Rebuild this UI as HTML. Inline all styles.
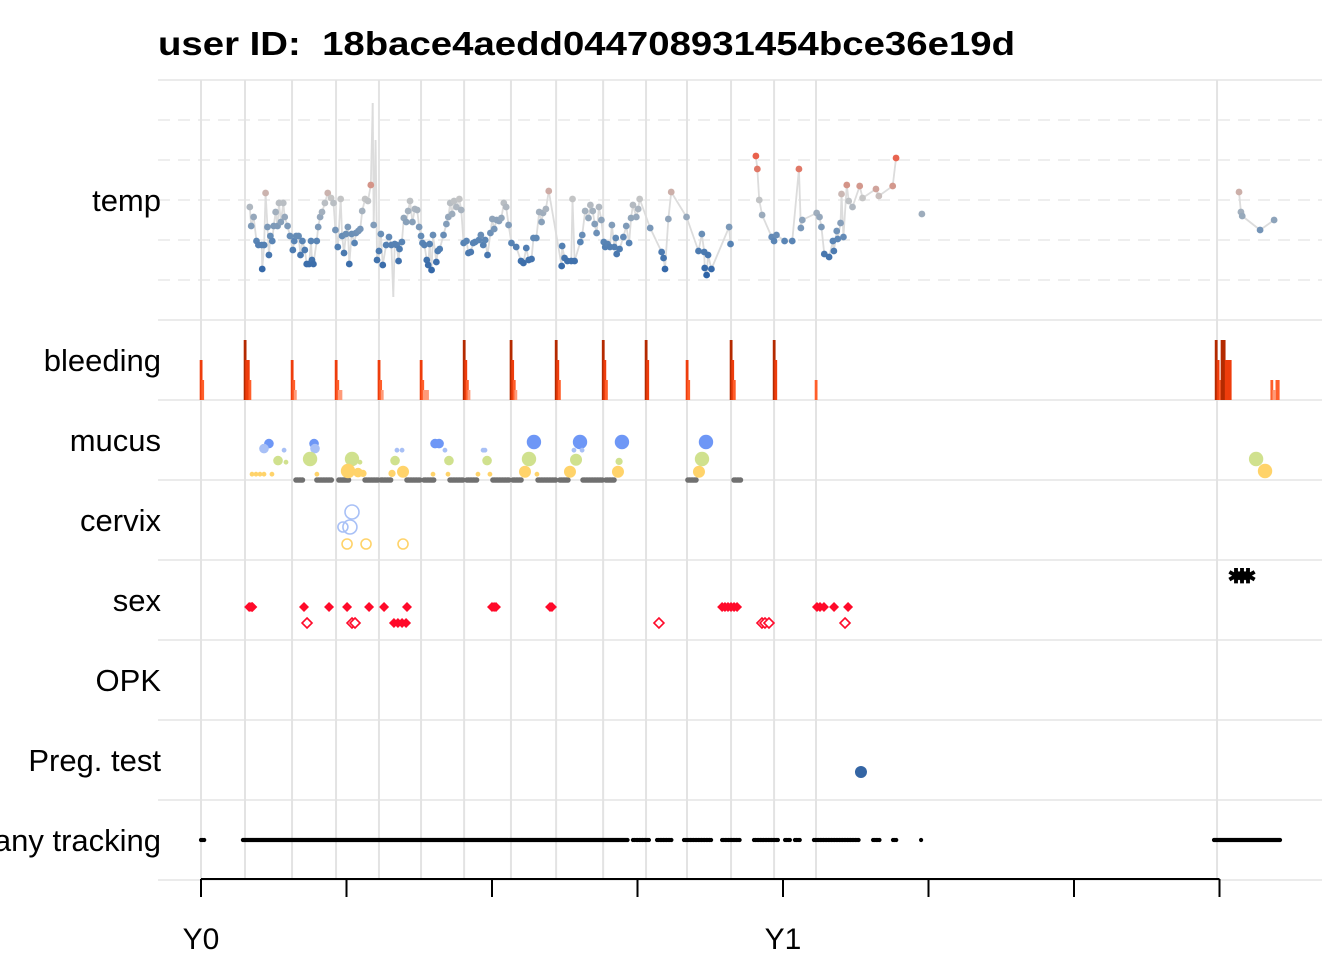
<!DOCTYPE html>
<html><head><meta charset="utf-8"><style>
html,body{margin:0;padding:0;background:#fff;}
svg{display:block;font-family:"Liberation Sans",Arial,sans-serif;}
</style></head><body>
<svg id="chart" width="1344" height="960" viewBox="0 0 1344 960" xmlns="http://www.w3.org/2000/svg">
<text x="158" y="55" font-size="33" font-weight="bold" textLength="857" lengthAdjust="spacingAndGlyphs">user ID:&#160; 18bace4aedd044708931454bce36e19d</text>
<g id="grid"></g><g id="marks"></g><g id="axis"></g>
</svg>
<script>
const cycleStarts=[0,27.6,57.1,84.7,111.6,138.0,165.0,194.4,222.7,252.2,279.1,304.8,332.4,359.4,385.7,637.2];
const xTickDays=[0,91.25,182.5,273.75,365,456.25,547.5,638.75];
const xTickLabels=["Y0","","","","Y1","","",""];
const rowNames=["temp","bleeding","mucus","cervix","sex","OPK","Preg. test","any tracking"];
const tempDays=[30.6,31.5,33.0,34.8,36.0,38.1,38.4,39.6,40.5,41.7,42.6,43.5,44.7,45.6,46.8,48.0,48.9,50.1,51.6,52.5,54.3,55.8,57.6,58.5,59.7,61.2,62.4,63.6,65.1,66.3,67.8,69.0,69.6,70.5,72.6,73.5,74.7,75.9,77.7,79.5,81.6,83.1,84.3,85.8,87.6,88.5,89.7,90.9,92.1,93.0,94.5,96.3,97.2,98.7,99.9,101.1,102.9,104.7,106.5,108.3,110.4,111.6,112.8,114.0,116.1,117.9,119.4,121.5,122.7,123.9,124.5,126.0,127.2,128.7,129.9,131.1,132.6,134.1,135.6,136.8,138.0,138.9,140.1,141.6,142.5,143.4,144.6,145.5,147.6,148.5,149.7,152.1,153.9,155.1,156.3,157.5,158.7,160.2,162.0,163.2,164.7,166.5,167.7,169.2,170.7,171.9,174.3,175.5,177.0,178.2,179.7,181.5,182.7,183.9,185.4,186.9,188.4,189.9,191.4,192.9,194.7,197.7,200.7,202.2,204.0,205.5,207.3,208.5,210.3,212.1,213.6,214.5,216.3,218.1,226.2,226.5,228.0,229.8,232.2,233.0,234.3,237.9,239.1,240.9,243.0,244.2,245.7,246.9,248.1,249.6,251.1,252.6,253.5,255.0,256.5,257.7,259.2,260.1,260.7,262.5,264.9,266.7,268.5,269.7,270.9,273.0,274.2,275.1,281.7,288.9,290.1,291.0,293.1,294.9,304.5,312.0,314.1,315.6,315.9,317.1,318.0,320.1,331.2,332.1,348.0,348.9,350.1,351.9,357.9,359.4,360.9,366.0,370.8,375.0,376.2,377.1,386.1,387.9,389.1,390.9,393.9,396.3,396.9,398.7,399.3,401.1,401.7,402.9,405.0,406.2,408.6,413.1,414.9,423.3,425.1,433.8,435.9,452.1,651,652.2,653,664.2,673];
const tempValues=[36.53,36.34,36.43,36.19,36.15,36.15,35.91,36.15,36.67,36.33,36.05,36.24,36.19,36.34,36.48,36.34,36.57,36.38,36.57,36.43,36.34,36.24,36.10,36.19,36.24,36.24,36.05,36.19,36.10,35.96,35.96,36.19,36.00,35.96,36.19,36.33,36.43,36.48,36.57,36.67,36.62,36.57,36.30,36.13,36.61,36.24,36.07,36.26,36.33,35.96,36.26,36.17,36.27,36.29,36.31,36.49,36.61,36.59,36.75,36.35,36.00,36.09,36.26,35.95,36.15,36.23,36.15,36.16,36.15,35.99,36.11,36.18,36.42,36.38,36.49,36.59,36.38,36.51,36.50,36.33,36.24,36.17,36.15,36.00,35.95,36.16,35.90,36.25,35.98,36.09,36.11,36.25,36.36,36.43,36.57,36.46,36.59,36.53,36.61,36.50,36.17,36.19,36.07,36.08,36.17,36.18,36.20,36.25,36.15,36.20,36.05,36.27,36.41,36.31,36.40,36.39,36.42,36.57,36.53,36.35,36.17,36.13,35.99,35.97,36.12,36.00,36.01,36.22,36.22,36.48,36.38,36.47,36.51,36.69,35.94,36.14,36.02,35.99,35.99,36.61,35.99,36.18,36.25,36.49,36.42,36.55,36.49,36.36,36.27,36.53,36.40,36.18,36.13,36.16,36.13,36.35,36.13,36.22,36.06,36.11,36.23,36.34,36.17,36.42,36.55,36.43,36.51,36.61,36.32,36.08,36.02,35.91,36.41,36.68,36.43,36.09,36.26,36.08,35.92,35.85,36.05,35.91,36.33,36.16,37.04,36.91,36.60,36.45,36.23,36.19,36.25,36.19,36.19,36.91,36.32,36.40,36.47,36.43,36.33,36.06,36.03,36.19,36.09,36.29,36.21,36.37,36.66,36.23,36.75,36.59,36.53,36.74,36.62,36.71,36.64,36.74,37.02,36.46,36.68,36.48,36.44,36.30,36.40];
const spikeDays=[106.5,107.7,108.3,109.5,110.4,119.4,120.6,121.5];
const spikeValues=[36.75,37.57,36.35,37.2,36.00,36.15,35.63,36.16];
const bleedDays=[0,1,27.6,28.6,29.6,30.6,57.1,58.1,59.1,84.7,85.7,86.7,87.7,111.6,112.6,113.6,138,139,140,141,142,165,166,167,168,194.4,195.4,196.4,197.4,222.7,223.7,224.7,252.2,253.2,254.2,279.1,280.1,304.8,305.8,332.4,333.4,334.4,359.4,360.4,385.7,636.6,637.8,639.1,640.3,641.6,642.9,644.1,645.4,671.5,672.8,674.7,675.5];
const bleedLevels=[2,1,3,2,2,1,2,1,0.5,2,1,0.5,0.5,2,1,0.5,2,1,0.5,0.5,0.5,3,2,1,0.5,3,2,1,0.5,3,2,1,3,2,1,3,2,2,1,3,2,1,3,2,1,3,2,1,3,3,2,2,2,1,0.5,1,1];
const mucusDays=[42.6,70.9,146.8,149.3,208.8,237.7,264,316.7,39.5,71.5,52.1,122.9,126.1,178.1,233.9,153,176.9,239,48.3,53.3,68.4,94.7,99.7,121.7,155.5,179.4,205.7,235.2,262.2,314.2,661.7,32,34.5,37,39.5,44.5,72.7,92.2,98.5,101.6,119.8,126.7,145.5,154.9,173.7,181.2,203.2,210.7,231.4,261.5,312.3,667.3];
const mucusTypes=["ew","ew","ew","ew","ew","ew","ew","ew","watery","watery","watery","watery","watery","watery","watery","watery","watery","watery","creamy","creamy","creamy","creamy","creamy","creamy","creamy","creamy","creamy","creamy","creamy","creamy","creamy","sticky","sticky","sticky","sticky","sticky","sticky","sticky","sticky","sticky","sticky","sticky","sticky","sticky","sticky","sticky","sticky","sticky","sticky","sticky","sticky","sticky"];
const mucusSizes=[4,4,4,4,6,6,6,6,4,4,2,2,2,2,2,2,2,2,4,2,6,6,2,4,4,4,6,5,3,6,6,2,2,2,2,2,2,6,4,3,3,5,2,2,2,2,5,2,5,5,5,6];
const noneStart=[59.6,72.7,86.5,102.9,112.9,129.2,139.9,156.2,166.8,183.1,195.7,211.4,225.1,239.6,254.0,305.4,334.3];
const noneEnd=[64.0,82.2,93.4,111.6,119.2,138.0,146.1,165.0,173.1,193.8,201.3,223.3,230.2,252.1,259.0,310.4,338.7];
const cervixDays=[94.7,93.4,89.0,91.6,103.5,126.7];
const cervixTypes=["high","medium","medium","firm","firm","firm"];
const cervixSizes=[7,7,5,5,5,5];
const sexDays=[30.2,31.4,32.2,64.6,80.3,91.6,105.4,114.8,129.2,182.5,183.8,185,218.9,220.1,326.8,328.6,330.5,332.4,334.3,336.2,386.3,388.2,390.7,397,405.8,66.5,94.7,96.6,287.2,351.8,353.7,356.2,403.9,121,123.5,126.1,128.6,649.1,652.9,656.6];
const sexTypes=["unprot","unprot","unprot","unprot","unprot","unprot","unprot","unprot","unprot","unprot","unprot","unprot","unprot","unprot","unprot","unprot","unprot","unprot","unprot","unprot","unprot","unprot","unprot","unprot","unprot","prot","prot","prot","prot","prot","prot","prot","prot","withdrawal","withdrawal","withdrawal","withdrawal","drive","drive","drive"];
const pregDays=[413.9];
const trackStart=[0,26.3,270.9,286,302.9,326.8,346.8,366.3,372.5,384.4,421.5,434,451.6,635.3];
const trackEnd=[2.5,267.8,281.6,295.4,320.5,338.7,361.9,369.4,375.7,413.3,425.8,436.5,451.6,676.7];

const NS="http://www.w3.org/2000/svg";
const X0=201, PXD=582/365;
function xs(d){return X0+d*PXD;}
function ty(t){return 200-(t-36.6)*100;}
const rowTop=[80,320,400,480,560,640,720,800];
const rowBot=[320,400,480,560,640,720,800,880];
function mk(tag,attrs,parent){const e=document.createElementNS(NS,tag);for(const k in attrs)e.setAttribute(k,attrs[k]);parent.appendChild(e);return e;}
const grid=document.getElementById('grid'),marks=document.getElementById('marks'),axis=document.getElementById('axis');
[120,160,200,240,280].forEach(y=>{const l=mk('line',{x1:158,x2:1322,y1:y,y2:y,stroke:'#eeeeee','stroke-width':2,'stroke-dasharray':'12 8'},grid);

});
[80,320,400,480,560,640,720,800,880].forEach(y=>{const l=mk('line',{x1:158,x2:1322,y1:y,y2:y,stroke:'#ebebeb','stroke-width':2},grid);

});
cycleStarts.forEach(d=>{const l=mk('line',{x1:xs(d),x2:xs(d),y1:80,y2:880,stroke:'#e3e3e3','stroke-width':2},grid);

});
rowNames.forEach((n,i)=>{const t=mk('text',{x:161,y:(rowTop[i]+rowBot[i])/2+11,'font-size':31,'text-anchor':'end',fill:'#000'},axis);t.textContent=n;

});
const ax=mk('line',{x1:xs(0),x2:xs(xTickDays[xTickDays.length-1]),y1:879,y2:879,stroke:'#000','stroke-width':2},axis);


xTickDays.forEach((d,i)=>{const t=mk('line',{x1:xs(d),x2:xs(d),y1:879,y2:897,stroke:'#000','stroke-width':2},axis);


if(xTickLabels[i]){const l=mk('text',{x:xs(d),y:949,'font-size':30,'text-anchor':'middle'},axis);l.textContent=xTickLabels[i];

}});
const stops=[[35.85,[46,99,166]],[36.2,[91,134,181]],[36.45,[154,170,187]],[36.62,[198,198,198]],[36.75,[212,148,136]],[37.05,[234,95,74]]];
function tcol(t){if(t<=stops[0][0])return 'rgb('+stops[0][1]+')';for(let i=1;i<stops.length;i++){if(t<=stops[i][0]){const a=stops[i-1],b=stops[i],f=(t-a[0])/(b[0]-a[0]);return 'rgb('+a[1].map((v,j)=>Math.round(v+(b[1][j]-v)*f)).join(',')+')';}}return 'rgb('+stops[stops.length-1][1]+')';}
const pts=tempDays.map((d,i)=>[d,tempValues[i]]).concat(spikeDays.map((d,i)=>[d,spikeValues[i]])).sort((a,b)=>a[0]-b[0]);
for(let i=1;i<pts.length;i++){if(pts[i][0]-pts[i-1][0]<=14){const l=mk('line',{x1:xs(pts[i-1][0]),y1:ty(pts[i-1][1]),x2:xs(pts[i][0]),y2:ty(pts[i][1]),stroke:'#dcdcdc','stroke-width':1.8},marks);

}}
tempDays.forEach((d,i)=>{const c=mk('circle',{cx:xs(d),cy:ty(tempValues[i]),r:3.4,fill:tcol(tempValues[i])},marks);

});
const bcol={3:'#b42a00',2:'#ee3d0c',1:'#ff5e2a',0.5:'#ff9a78'};
bleedDays.forEach((d,i)=>{const lv=bleedLevels[i];const h=lv*20;const r=mk('rect',{x:xs(d)-1.3,y:400-h,width:2.8,height:h,fill:bcol[lv]},marks);

});
const mcol={ew:'#6e97f6',watery:'#a8c0f6',creamy:'#d0e18e',sticky:'#ffd36a'};
const my={ew:442,watery:447,creamy:459,sticky:471};
noneStart.forEach((s,i)=>{for(let d=s;d<=noneEnd[i]+0.01;d+=1){const c=mk('circle',{cx:xs(d),cy:480,r:2.8,fill:'#707070'},marks);

}});
mucusDays.forEach((d,i)=>{const t=mucusTypes[i];const c=mk('circle',{cx:xs(d),cy:my[t]+(6-mucusSizes[i])*0.8,r:mucusSizes[i]*1.2,fill:mcol[t]},marks);

});
const cy={high:512,medium:527,firm:544};const ccol={high:'#a8c0f6',medium:'#a8c0f6',firm:'#ffd36a'};
cervixDays.forEach((d,i)=>{const c=mk('circle',{cx:xs(d),cy:cy[cervixTypes[i]],r:cervixSizes[i],fill:'none',stroke:ccol[cervixTypes[i]],'stroke-width':1.6},marks);

});
sexDays.forEach((d,i)=>{const t=sexTypes[i];const x=xs(d);
if(t==='drive'){const s=mk('text',{x:x,y:583,'font-size':20,'font-weight':'bold','text-anchor':'middle',fill:'#000'},marks);s.textContent='✱';

return;}
const y=t==='unprot'?607:623;const filled=t!=='prot';
const p=mk('polygon',{points:`${x},${y-5} ${x+5},${y} ${x},${y+5} ${x-5},${y}`,fill:filled?'#ff0a2a':'#fff',stroke:'#ff0a2a','stroke-width':filled?0:1.6},marks);

});
pregDays.forEach(d=>{const c=mk('circle',{cx:xs(d),cy:772,r:6,fill:'#3465a4'},marks);

});
trackStart.forEach((s,i)=>{const e=trackEnd[i];for(let d=s;d<=e+0.01;d+=(e-s>40?0.6:1)){const c=mk('circle',{cx:xs(d),cy:840,r:2.1,fill:'#000'},marks);

}});
</script>
</body></html>
